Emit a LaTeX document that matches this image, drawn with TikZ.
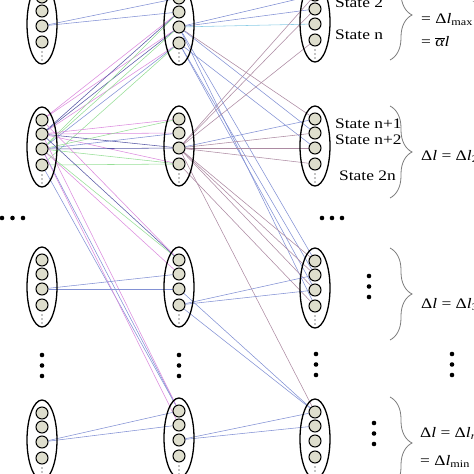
\documentclass[tikz,border=0pt]{standalone}
\usepackage{fontspec}
\newfontfamily\lbl{Liberation Serif}[FakeStretch=1.2]
\usetikzlibrary{shapes.geometric,decorations.pathreplacing}
\pgfdeclarelayer{bg}
\pgfsetlayers{bg,main}
\definecolor{blueL}{RGB}{130,145,212}
\definecolor{dblue}{RGB}{88,88,165}
\definecolor{pinkL}{RGB}{220,140,222}
\definecolor{greenL}{RGB}{150,222,150}
\definecolor{mauve}{RGB}{172,138,162}
\definecolor{cyanL}{RGB}{140,205,230}
\definecolor{cfill}{RGB}{222,222,205}
\definecolor{bracegray}{RGB}{125,125,125}
\tikzset{
  ell/.style={ellipse, draw, line width=1.3pt, minimum width=30pt, minimum height=80pt, inner sep=0pt},
  st/.style={circle, draw, line width=1pt, fill=cfill, minimum size=12pt, inner sep=0pt},
  con/.style={line width=0.55pt},
  lab/.style={anchor=base west, inner sep=0pt, font=\lbl\fontsize{14.5}{16}\selectfont},
  brc/.style={draw=bracegray, line width=0.8pt, decorate, decoration={brace, amplitude=22pt}},
}
\newcommand{\grp}[3]{%
  \node[ell] (#1) at (#2,#3) {};
  \node[st] (#1-1) at (#2,#3-27) {};
  \node[st] (#1-2) at (#2,#3-13) {};
  \node[st] (#1-3) at (#2,#3+2) {};
  \node[st] (#1-4) at (#2,#3+18) {};
  \foreach \dy in {28,32,36} \fill (#2,#3+\dy) circle (0.6);
}
\newcommand{\vdotsgrp}[2]{%
  \foreach \yy in {0,10.5,21} \fill (#1,#2+\yy) circle (2.3);
}
\newcommand{\abar}{\ensuremath{\overline{\hbox{\itshape α}}}}
\begin{document}
\begin{tikzpicture}[x=1pt,y=-1pt]
\useasboundingbox (0,0) rectangle (474,474);
% left column
\grp{L1}{42}{24}
\grp{L2}{42}{147}
\grp{L3}{42}{287}
\grp{L4}{42}{440}
% middle column
\grp{M1}{179}{25}
\grp{M2}{179}{146}
\grp{M3}{179}{287}
\grp{M4}{179}{438}
% right column
\grp{R1}{315}{22}
\grp{R2}{315}{146}
\grp{R3}{315}{288}
\grp{R4}{315}{439}
% connectors
\begin{pgfonlayer}{bg}
\foreach \a/\b/\c in {
 L1-3/M1-1/blueL, L1-3/M1-2/blueL,
 L2-1/M1-2/pinkL, L2-1/M1-3/pinkL, L2-2/M1-4/pinkL,
 L2-2/M1-2/dblue, L2-2/M1-3/dblue, L2-3/M1-4/blueL,
 L2-3/M1-2/greenL, L2-3/M1-3/greenL, L2-4/M1-4/greenL,
 L2-2/M2-1/pinkL, L2-2/M2-2/pinkL, L2-2/M2-4/pinkL,
 L2-3/M2-2/blueL, L2-3/M2-3/dblue, L2-2/M2-3/dblue,
 L2-3/M2-4/greenL, L2-4/M2-4/greenL, L2-3/M2-1/greenL,
 L2-3/M3-1/greenL, L2-2/M3-1/dblue, L2-1/M3-1/pinkL, L2-3/M3-2/pinkL,
 L2-3/M4-1/blueL, L2-4/M4-1/blueL, L2-2/M4-1/pinkL, L2-3/M4-2/pinkL,
 L3-3/M3-2/blueL, L3-3/M3-3/blueL,
 L4-3/M4-1/blueL, L4-3/M4-2/blueL,
 M1-3/R1-1/blueL, M1-3/R1-2/blueL, M1-3/R1-3/cyanL,
 M1-3/R2-1/mauve, M1-3/R2-2/blueL, M1-4/R2-3/blueL,
 M1-3/R3-1/blueL, M1-4/R3-2/blueL, M1-4/R3-3/blueL, M1-3/R3-4/blueL,
 M2-3/R1-1/mauve, M2-3/R1-2/mauve, M2-3/R1-4/mauve,
 M2-3/R2-1/blueL, M2-3/R2-2/mauve, M2-3/R2-3/mauve, M2-3/R2-4/mauve,
 M2-3/R3-1/mauve, M2-3/R3-2/mauve, M2-3/R3-3/mauve, M2-4/R3-4/mauve,
 M2-3/R4-1/mauve,
 M3-4/R3-2/blueL, M3-4/R3-3/blueL,
 M3-3/R4-1/blueL, M3-4/R4-1/blueL,
 M4-3/R4-1/blueL, M4-3/R4-2/blueL}
 \draw[con,\c] (\a) -- (\b);
\end{pgfonlayer}
% dots
\foreach \xx in {2,12.5,23} \fill (\xx,218) circle (2.3);
\foreach \xx in {322,332,342} \fill (\xx,218) circle (2.3);
\vdotsgrp{42}{355}
\vdotsgrp{179}{355}
\vdotsgrp{316}{354}
\vdotsgrp{452}{354}
\vdotsgrp{369}{276}
\vdotsgrp{374}{423}
% braces
\draw[brc] (390,-30) -- (390,60);
\draw[brc] (390,106) -- (390,198);
\draw[brc] (390,248) -- (390,340);
\draw[brc] (390,397) -- (390,489);
% labels
\node[lab] (s2) at (335,7) {State 2};
\node[lab] (sn) at (335,39.5) {State n};
\node[lab] (sn1) at (335,128) {State n+1};
\node[lab] (sn2) at (335,144) {State n+2};
\node[lab] (s2n) at (339,180) {State 2n};
\node[lab] (d1) at (421,0) {Δ\textit{l} = Δ\textit{l}\textsubscript{1}};
\node[lab] (dmax) at (421,23) {= Δ\textit{l}\textsubscript{max}};
\node[lab] (abar) at (421,46) {= \abar\textit{l}};
\node[lab] (d2) at (421,160) {Δ\textit{l} = Δ\textit{l}\textsubscript{2}};
\node[lab] (d3) at (421,308) {Δ\textit{l} = Δ\textit{l}\textsubscript{3}};
\node[lab] (dn) at (420,437) {Δ\textit{l} = Δ\textit{l}\textsubscript{\textit{n}}};
\node[lab] (dmin) at (420,465) {= Δ\textit{l}\textsubscript{min}};
\end{tikzpicture}
\end{document}
